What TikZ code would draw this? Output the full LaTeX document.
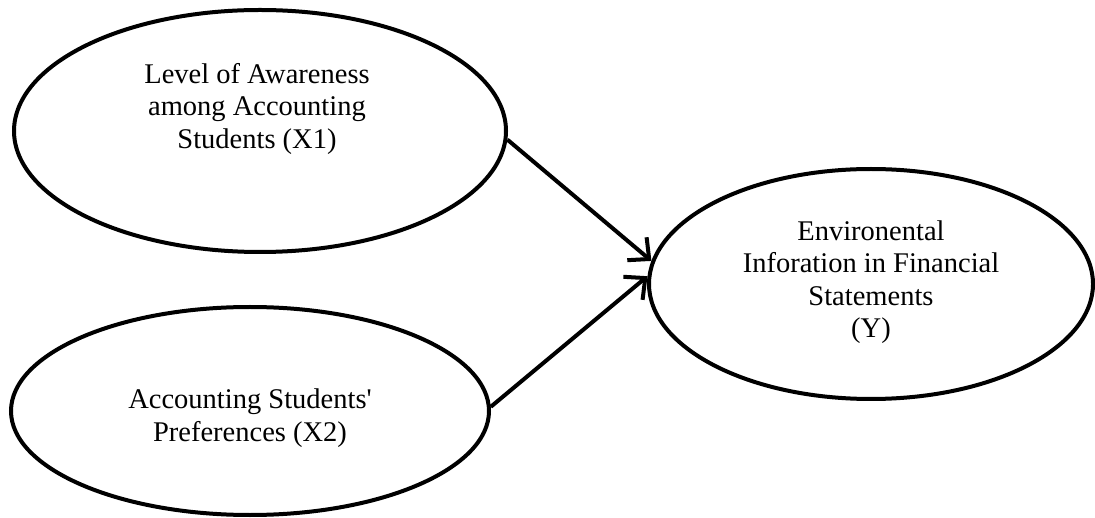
\documentclass[tikz,border=0pt]{standalone}
\usepackage{fontspec}
\setmainfont{Liberation Serif}
\usetikzlibrary{shapes.geometric,arrows.meta}
\tikzset{
  oval/.style={ellipse, draw=black, line width=4pt, inner sep=0pt},
  lbl/.style={align=center, inner sep=0pt, font=\fontsize{28.5}{32.5}\selectfont},
  arr/.style={line width=4pt, -{Straight Barb[length=16pt,width=30pt,line width=4pt]}}
}
\begin{document}
\begin{tikzpicture}[x=1pt,y=-1pt]
\useasboundingbox (0,0) rectangle (1095,518);
\node[oval, minimum width=492pt, minimum height=242pt] (x1) at (260,131) {};
\node[oval, minimum width=478pt, minimum height=208pt] (x2) at (250,411) {};
\node[oval, minimum width=444pt, minimum height=230pt] (y) at (871,284) {};
\node[lbl] (x1t) at (257,109) {Level of Awareness\\among Accounting\\Students (X1)};
\node[lbl] (x2t) at (250,418) {Accounting Students\textquotesingle\\Preferences (X2)};
\node[lbl] (yt) at (871,282) {Environental\\Inforation in Financial\\Statements\\(Y)};
\draw[arr] (x1.-2) -- (y.174.6);
\draw[arr] (x2.1.7) -- (y.178.7);
\end{tikzpicture}
\end{document}
